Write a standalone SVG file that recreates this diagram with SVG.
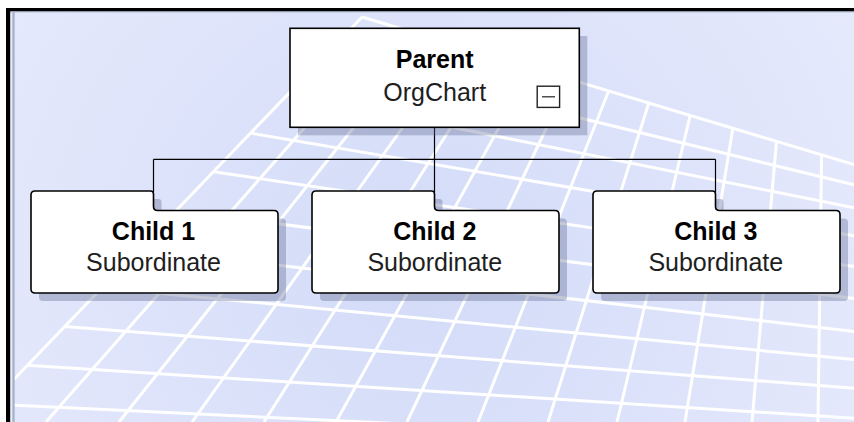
<svg xmlns="http://www.w3.org/2000/svg" width="854" height="422" viewBox="0 0 854 422">
  <defs>
    <radialGradient id="bgGrad" cx="420" cy="270" r="520" gradientUnits="userSpaceOnUse">
      <stop offset="0" stop-color="#d3dbf8"/>
      <stop offset="1" stop-color="#e6eafc"/>
    </radialGradient>
    <path id="childShape" d="M0,195 Q0,191 4,191 L119.5,191 Q122.5,191 122.5,194 L122.5,206.5 Q122.5,210.5 126.5,210.5 L243,210.5 Q247,210.5 247,214.5 L247,289 Q247,293 243,293 L4,293 Q0,293 0,289 Z"/>
  </defs>
  <style>
    .grid line { stroke: #ffffff; stroke-width: 3; stroke-linecap: butt; }
    .shadow { fill: #5f6890; fill-opacity: 0.36; }
    .box { fill: #ffffff; stroke: #000000; stroke-width: 1.6; }
    .conn { fill: none; stroke: #000000; stroke-width: 1.2; }
    .title { font-family: "Liberation Sans", Arial, sans-serif; font-size: 25px; font-weight: bold; fill: #000000; text-anchor: middle; }
    .sub { font-family: "Liberation Sans", Arial, sans-serif; font-size: 25px; fill: #1e1e1e; text-anchor: middle; }
  </style>

  <!-- background -->
  <rect x="0" y="0" width="854" height="422" fill="#ffffff"/>
  <rect x="10" y="11" width="844" height="411" fill="url(#bgGrad)"/>

  <!-- perspective grid -->
  <g class="grid">
    <line x1="362.1" y1="17" x2="854" y2="164.6"/>
    <line x1="324.9" y1="55.7" x2="854" y2="184.8"/>
    <line x1="287.7" y1="94.4" x2="854" y2="207.7"/>
    <line x1="250.6" y1="133.1" x2="854" y2="235.7"/>
    <line x1="213.4" y1="171.8" x2="854" y2="266.6"/>
    <line x1="176.2" y1="210.5" x2="854" y2="298.6"/>
    <line x1="139.0" y1="249.2" x2="854" y2="331.4"/>
    <line x1="101.8" y1="287.9" x2="854" y2="359.4"/>
    <line x1="64.7" y1="326.6" x2="854" y2="388.2"/>
    <line x1="27.5" y1="365.3" x2="854" y2="418.2"/>
    <line x1="-9.7" y1="404.0" x2="854" y2="445.5"/>

    <line x1="362.1" y1="17" x2="-27" y2="422"/>
    <line x1="393.6" y1="26.5" x2="46" y2="422"/>
    <line x1="426.4" y1="36.3" x2="119" y2="422"/>
    <line x1="460.6" y1="46.5" x2="192" y2="422"/>
    <line x1="495.6" y1="57.0" x2="264" y2="422"/>
    <line x1="532" y1="68" x2="336" y2="422"/>
    <line x1="569.6" y1="79.2" x2="407" y2="422"/>
    <line x1="608.6" y1="91" x2="478" y2="422"/>
    <line x1="648.8" y1="103" x2="548" y2="422"/>
    <line x1="690.2" y1="115.4" x2="617" y2="422"/>
    <line x1="732.8" y1="128.2" x2="685" y2="422"/>
    <line x1="776.5" y1="141.4" x2="752" y2="422"/>
    <line x1="821.6" y1="154.9" x2="818" y2="422"/>
  </g>

  <!-- frame -->
  <rect x="10" y="11" width="2.5" height="411" fill="#e9edf8"/>
  <rect x="12.3" y="11" width="2.4" height="411" fill="#a9b3cb"/>
  <rect x="10" y="11" width="844" height="1.5" fill="#b7c0d6"/>
  <rect x="6" y="8" width="4.2" height="414" fill="#000000"/>
  <rect x="6" y="8" width="848" height="3.2" fill="#000000"/>

  <!-- connectors -->
  <g id="connectors">
    <path class="conn" d="M434.5,127.5 L434.5,159.3"/>
    <path class="conn" d="M153.5,159.3 L715.5,159.3"/>
    <path class="conn" d="M153.5,159.3 L153.5,192"/>
    <path class="conn" d="M434.5,159.3 L434.5,192"/>
    <path class="conn" d="M715.5,159.3 L715.5,192"/>
  </g>

  <!-- parent node -->
  <g id="node-parent">
    <rect class="shadow" x="298" y="36" width="289.3" height="99.3"/>
    <rect class="box" x="290" y="28.3" width="289.3" height="99" stroke-width="2"/>
    <text class="title" x="434.7" y="68.3">Parent</text>
    <text class="sub" x="434.7" y="101.3">OrgChart</text>
    <g id="collapse-icon">
      <rect x="537.2" y="86.2" width="22.4" height="21.2" fill="#ffffff" stroke="#222222" stroke-width="1.4"/>
      <line x1="542" y1="96.8" x2="555" y2="96.8" stroke="#222222" stroke-width="1.2"/>
    </g>
  </g>

  <!-- child 1 -->
  <g id="node-child1">
    <use href="#childShape" class="shadow" transform="translate(39,8)"/>
    <use href="#childShape" class="box" transform="translate(31,0)"/>
    <text class="title" x="153.5" y="240">Child 1</text>
    <text class="sub" x="153.5" y="271">Subordinate</text>
  </g>

  <!-- child 2 -->
  <g id="node-child2">
    <use href="#childShape" class="shadow" transform="translate(320,8)"/>
    <use href="#childShape" class="box" transform="translate(312,0)"/>
    <text class="title" x="434.8" y="240">Child 2</text>
    <text class="sub" x="434.8" y="271">Subordinate</text>
  </g>

  <!-- child 3 -->
  <g id="node-child3">
    <use href="#childShape" class="shadow" transform="translate(601,8)"/>
    <use href="#childShape" class="box" transform="translate(593,0)"/>
    <text class="title" x="715.8" y="240">Child 3</text>
    <text class="sub" x="715.8" y="271">Subordinate</text>
  </g>
</svg>
